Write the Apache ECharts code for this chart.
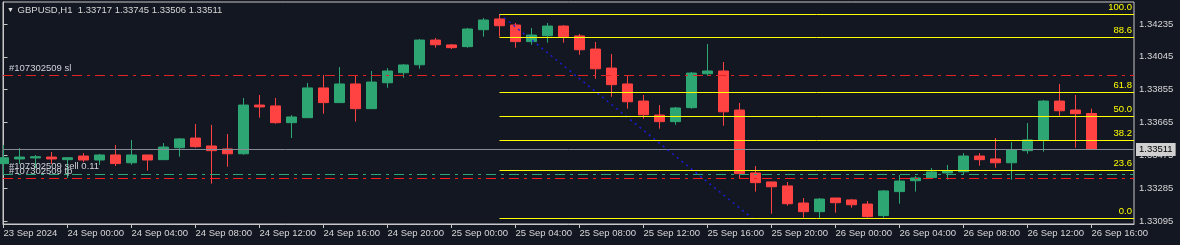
<!DOCTYPE html>
<html><head><meta charset="utf-8">
<script src="https://cdn.jsdelivr.net/npm/echarts@6/dist/echarts.min.js"></script>
<style>html,body{margin:0;padding:0;background:#131722;}#c{width:1180px;height:245px;}</style>
</head><body><div id="c"></div>
<script>
// ---------- data ----------
const symbol = 'GBPUSD,H1';
const timeLabels = ['23 Sep 2024','24 Sep 00:00','24 Sep 04:00','24 Sep 08:00','24 Sep 12:00','24 Sep 16:00',
  '24 Sep 20:00','25 Sep 00:00','25 Sep 04:00','25 Sep 08:00','25 Sep 12:00','25 Sep 16:00','25 Sep 20:00',
  '26 Sep 00:00','26 Sep 04:00','26 Sep 08:00','26 Sep 12:00','26 Sep 16:00'];
const timeLabelBars = [0,4,8,12,16,20,24,28,32,36,40,44,48,52,56,60,64,68];
const open = [1.33427,1.33454,1.33460,1.33465,1.33450,1.33471,1.33448,1.33477,1.33432,1.33477,
  1.33450,1.33519,1.33575,1.33529,1.33512,1.33484,1.33766,1.33761,1.33664,1.33693,
  1.33865,1.33780,1.33888,1.33745,1.33895,1.33953,1.33999,1.34142,1.34114,1.34104,
  1.34202,1.34264,1.34229,1.34133,1.34167,1.34223,1.34166,1.34090,1.33980,1.33888,
  1.33789,1.33708,1.33670,1.33751,1.33947,1.33963,1.33737,1.33373,1.33321,1.33298,
  1.33199,1.33149,1.33228,1.33217,1.33193,1.33126,1.33265,1.33328,1.33346,1.33373,
  1.33380,1.33471,1.33454,1.33432,1.33502,1.33564,1.33789,1.33737,1.33717];
const close = [1.33461,1.33465,1.33467,1.33454,1.33461,1.33448,1.33477,1.33427,1.33477,1.33448,
  1.33523,1.33570,1.33525,1.33502,1.33484,1.33766,1.33755,1.33664,1.33697,1.33865,
  1.33780,1.33888,1.33745,1.33899,1.33963,1.33998,1.34142,1.34115,1.34098,1.34206,
  1.34258,1.34225,1.34133,1.34171,1.34223,1.34162,1.34086,1.33976,1.33884,1.33785,
  1.33710,1.33670,1.33749,1.33951,1.33963,1.33727,1.33369,1.33317,1.33293,1.33195,
  1.33149,1.33222,1.33201,1.33189,1.33120,1.33269,1.33326,1.33344,1.33379,1.33384,
  1.33471,1.33450,1.33432,1.33506,1.33564,1.33789,1.33733,1.33716,1.33511];
const low = [1.33361,1.33425,1.33400,1.33425,1.33344,1.33436,1.33419,1.33413,1.33421,1.33386,
  1.33450,1.33467,1.33519,1.33311,1.33409,1.33479,1.33693,1.33658,1.33575,1.33693,
  1.33716,1.33780,1.33670,1.33745,1.33866,1.33924,1.33976,1.34098,1.34090,1.34098,
  1.34162,1.34162,1.34098,1.34115,1.34127,1.34127,1.34057,1.33918,1.33814,1.33745,
  1.33687,1.33629,1.33652,1.33745,1.33936,1.33646,1.33340,1.33265,1.33137,1.33184,
  1.33114,1.33111,1.33143,1.33172,1.33114,1.33114,1.33195,1.33265,1.33340,1.33334,
  1.33363,1.33415,1.33403,1.33334,1.33484,1.33496,1.33704,1.33519,1.33506];
const high = [1.33535,1.33517,1.33477,1.33494,1.33464,1.33488,1.33483,1.33535,1.33564,1.33477,
  1.33546,1.33575,1.33656,1.33651,1.33598,1.33807,1.33824,1.33807,1.33708,1.33894,
  1.33940,1.33986,1.33940,1.33963,1.33980,1.34004,1.34148,1.34154,1.34119,1.34212,
  1.34270,1.34293,1.34241,1.34212,1.34241,1.34229,1.34177,1.34131,1.34061,1.33936,
  1.33824,1.33766,1.33755,1.33957,1.34119,1.34015,1.33778,1.33413,1.33321,1.33321,
  1.33228,1.33228,1.33228,1.33222,1.33211,1.33274,1.33361,1.33355,1.33402,1.33419,
  1.33488,1.33488,1.33575,1.33552,1.33662,1.33795,1.33888,1.33824,1.33745];
const priceTicks = [1.33095,1.33285,1.33475,1.33665,1.33855,1.34045,1.34235];
const fibRatios = [0, 0.236, 0.382, 0.5, 0.618, 0.886, 1];
const fibLabels = ['0.0','23.6','38.2','50.0','61.8','88.6','100.0'];
const fibHigh = 1.34293, fibLow = 1.33111;
const fibStartBar = 31, fibEndBar = 46.8;
const bidPrice = 1.33511;
const ticket = '#107302509';
const slPrice = 1.33940, entryPrice = 1.33367, tpPrice = 1.33344;
const entryText = 'sell 0.11';

// ---------- chart ----------
const FONT = 'Liberation Sans';
const FS = 9.5;
const X_MIN = -0.03125, X_MAX = 70.65625;
const candles = open.map((o, i) => [i, o, close[i], low[i], high[i]]);
const fmtP = v => v.toFixed(5);
const DASHDOT = [10, 5, 3, 5];

const chart = echarts.init(document.getElementById('c'), null, {renderer: 'canvas'});

// keep 1px horizontal lines on a pixel row (through the library's own y scale)
let snap = p => p;

function lineSeries(x0, y0, x1, y1, lineStyle, label, snapY) {
  const a = snapY ? snap(y0) : y0, b = snapY ? snap(y1) : y1;
  const ls = Object.assign({width: 1, opacity: 1}, lineStyle);
  return {
    type: 'line', data: [], z: 1, silent: true,
    color: ls.color, itemStyle: {color: ls.color}, lineStyle: {color: ls.color},
    markLine: {
      symbol: 'none', silent: true, animation: false,
      itemStyle: {color: ls.color},
      lineStyle: ls,
      label: label || {show: false},
      emphasis: {disabled: true},
      data: [[{coord: [x0, a], lineStyle: ls}, {coord: [x1, b], lineStyle: ls}]]
    }
  };
}
const orderLabel = (txt, dy) => ({show: true, position: 'insideStartTop', distance: [6, dy], formatter: txt,
  color: '#cfd2d8', fontSize: FS, fontFamily: FONT});

function buildLines() {
  return [
    lineSeries(X_MIN, bidPrice, X_MAX, bidPrice, {color: '#868b95', type: 'solid'},
      {show: true, position: 'end', distance: 2, formatter: fmtP(bidPrice), color: '#000',
       backgroundColor: '#d0d0d0', padding: [2, 3, 1, 3], fontSize: FS, fontFamily: FONT}, true),
    lineSeries(X_MIN, slPrice, X_MAX, slPrice, {color: '#e02424', type: DASHDOT}, orderLabel(ticket + ' sl', 2), true),
    lineSeries(X_MIN, entryPrice, X_MAX, entryPrice, {color: '#2ea673', type: DASHDOT}, orderLabel(ticket + ' ' + entryText, 3), true),
    lineSeries(X_MIN, tpPrice, X_MAX, tpPrice, {color: '#ff1e1e', type: DASHDOT}, orderLabel(ticket + ' tp', 2), true),
    lineSeries(fibStartBar, fibHigh, fibEndBar, fibLow, {color: '#1c1cd8', type: [2, 4], width: 1.5}, null, false)
  ].concat(fibRatios.map((r, k) => {
    const p = fibLow + r * (fibHigh - fibLow);
    return lineSeries(fibStartBar, p, X_MAX, p, {color: '#ffff00', type: 'solid'},
      {show: true, position: 'insideEndTop', distance: 2, formatter: fibLabels[k],
       color: '#ffff00', fontSize: FS, fontFamily: FONT}, true);
  }));
}

const candleSeries = {
  type: 'candlestick', z: 3, barWidth: 10, clip: true,
  encode: {x: 0, y: [1, 2, 3, 4]},
  data: candles,
  itemStyle: {color: '#2ea673', color0: '#ff4242', borderColor: '#2ea673', borderColor0: '#ff4242', borderWidth: 1}
};

chart.setOption({
  backgroundColor: '#131722',
  animation: false,
  title: {
    text: '{t|▼} ' + symbol + '  ' + [open[68], high[68], low[68], close[68]].map(fmtP).join(' '),
    left: 7, top: 5, padding: 0,
    textStyle: {color: '#d6d6d6', fontSize: FS, fontWeight: 'normal', fontFamily: FONT,
      rich: {t: {fontSize: 7, color: '#e0e0e0', padding: [0, 1, 0, 0]}}}
  },
  grid: {left: 3, right: 46, top: 2, bottom: 21, show: true, borderColor: '#c8c8c8', borderWidth: 1, backgroundColor: 'transparent'},
  xAxis: {
    type: 'value', min: X_MIN, max: X_MAX,
    axisLine: {show: true, lineStyle: {color: '#c8c8c8'}},
    axisTick: {show: true, length: 4, lineStyle: {color: '#c8c8c8'}, customValues: timeLabelBars},
    axisLabel: {customValues: timeLabelBars, align: 'left', margin: 4, color: '#d6d6d6', fontSize: FS, fontFamily: FONT,
      formatter: v => timeLabels[timeLabelBars.indexOf(Math.round(v))] || ''},
    splitLine: {show: false}
  },
  yAxis: {
    type: 'value', position: 'right', min: 1.330776, max: 1.343623,
    axisLine: {show: true, lineStyle: {color: '#c8c8c8'}},
    axisTick: {show: true, length: 4, lineStyle: {color: '#c8c8c8'}, customValues: priceTicks},
    axisLabel: {customValues: priceTicks, margin: 5, color: '#d6d6d6', fontSize: FS, fontFamily: FONT, formatter: fmtP},
    splitLine: {show: false}
  },
  series: [candleSeries]
});

snap = p => {
  const y = chart.convertToPixel({yAxisIndex: 0}, p);
  return chart.convertFromPixel({yAxisIndex: 0}, Math.round(y) + 0.5);
};
chart.setOption({series: buildLines().concat([candleSeries])}, {replaceMerge: ['series']});
</script></body></html>
